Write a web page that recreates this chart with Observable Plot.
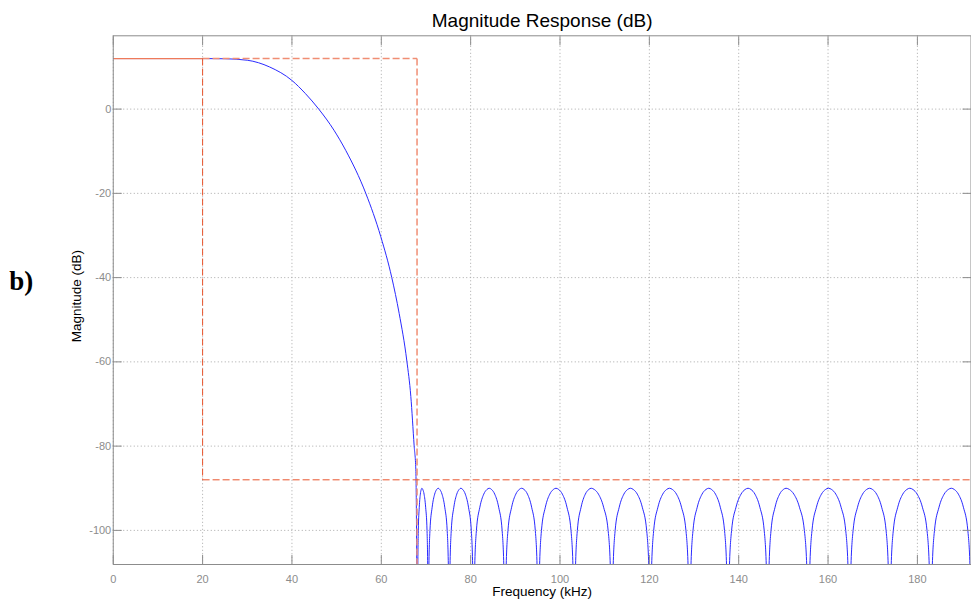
<!DOCTYPE html>
<html><head><meta charset="utf-8">
<script src="https://cdn.jsdelivr.net/npm/d3@7"></script>
<script src="https://cdn.jsdelivr.net/npm/@observablehq/plot@0.6"></script>
<style>
body{margin:0;background:#fff;font-family:"Liberation Sans",Arial,sans-serif;}
#chart svg{display:block;}
</style>
</head><body><div id="chart"></div>
<script>
// ---- texts ----
const titleText = "Magnitude Response (dB)";
const xLabelText = "Frequency (kHz)";
const yLabelText = "Magnitude (dB)";
const panelText = "b)";

// ---- axes ----
const xDomain = [0, 192];
const yDomain = [-108.1, 17.4];
const xTicks = [0, 20, 40, 60, 80, 100, 120, 140, 160, 180];
const yTicks = [0, -20, -40, -60, -80, -100];

// ---- passband / transition curve (kHz, dB) ----
const passFreq = [0, 20, 25, 30, 35, 40, 43, 46, 49.4, 52.04, 56.53, 59.89, 62.35, 64.0, 65.72, 66.61, 67.35, 67.73, 68.11];
const passDb   = [12, 12, 11.95, 11.6, 10.0, 6.8, 3.7, 0, -5.0, -9.8, -20.0, -30.3, -40.0, -48.5, -59.8, -68.2, -79.9, -85.6, -140];

// ---- stopband ripple lobes ----
const stopZeros = [68.11, 70.49, 75.19, 80.66, 87.68, 95.14, 103.2, 111.6, 120.2, 129.0, 137.6, 146.5, 155.6, 164.8, 173.8, 183.0, 192.1];
const stopPeaks = [69.08, 72.73, 77.81, 84.16, 91.42, 99.1, 107.0, 115.75, 124.5, 133.3, 142.1, 150.6, 160.1, 169.3, 178.3, 187.6];
const ripplePeakDb = [-90, -90, -90, -90, -90, -90, -90, -90, -90, -90, -90, -90, -90, -90, -90, -90];
// lobe profile: fraction of half-lobe from zero -> dB below ripple peak
const lobeProfile = [[0, -50], [0.06, -20.5], [0.18, -10], [0.4, -4.5], [0.65, -1.4], [0.85, -0.3], [1, 0]];

// ---- specification mask ----
const passEdge = 20, stopEdge = 68, passLevel = 12, stopLevel = -88;

// build tables
const passData = passFreq.map((f, i) => ({f, db: passDb[i]}));
const lobeData = [];
stopPeaks.forEach((p, i) => {
  const zL = stopZeros[i], zR = stopZeros[i + 1], pk = ripplePeakDb[i];
  lobeProfile.forEach(([s, d]) => lobeData.push({lobe: i, f: zL + s * (p - zL), db: pk + d}));
  lobeProfile.slice(0, -1).reverse().forEach(([s, d]) => lobeData.push({lobe: i, f: zR - s * (zR - p), db: pk + d}));
});
const maskSolid = [{x1: xDomain[0], y1: passLevel, x2: passEdge, y2: passLevel}];
const maskDashedLight = [
  {x1: passEdge, y1: passLevel, x2: stopEdge, y2: passLevel},
  {x1: stopEdge, y1: passLevel, x2: stopEdge, y2: yDomain[0]}
];
const maskDashedDark = [
  {x1: passEdge, y1: passLevel, x2: passEdge, y2: stopLevel},
  {x1: passEdge, y1: stopLevel, x2: xDomain[1], y2: stopLevel}
];

const gray = "#8c8c8c";
const fmt = d => String(d);
const chart = Plot.plot({
  width: 971,
  height: 600,
  marginLeft: 112.75,
  marginRight: 0.5,
  marginTop: 35.3,
  marginBottom: 36,
  style: {fontFamily: '"Liberation Sans", Arial, sans-serif', background: "#fff"},
  x: {domain: xDomain},
  y: {domain: yDomain},
  marks: [
    Plot.gridX(xTicks, {stroke: "#a8a8a8", strokeOpacity: 1, strokeDasharray: "1,2.5"}),
    Plot.gridY(yTicks, {stroke: "#a8a8a8", strokeOpacity: 1, strokeDasharray: "1,2.5"}),
    Plot.line(passData, {x: "f", y: "db", stroke: "#2a2aff", strokeWidth: 1, curve: "monotone-x", clip: true}),
    Plot.line(lobeData, {x: "f", y: "db", z: "lobe", stroke: "#2a2aff", strokeWidth: 1, curve: "monotone-x", clip: true}),
    Plot.link(maskSolid, {x1: "x1", y1: "y1", x2: "x2", y2: "y2", stroke: "#ee7a5a", strokeWidth: 1.3}),
    Plot.link(maskDashedLight, {x1: "x1", y1: "y1", x2: "x2", y2: "y2", stroke: "#f08e74", strokeWidth: 1.5, strokeDasharray: "7,3", clip: true}),
    Plot.link(maskDashedDark, {x1: "x1", y1: "y1", x2: "x2", y2: "y2", stroke: "#e8532c", strokeWidth: 1, strokeDasharray: "7,3", clip: true}),
    Plot.frame({stroke: gray, strokeWidth: 1}),
    Plot.axisX(xTicks, {anchor: "bottom", tickSize: -9, tickPadding: 20, tickFormat: fmt, stroke: gray, fill: gray, fontSize: 11, label: null}),
    Plot.axisX(xTicks, {anchor: "top", tickSize: -9, tickFormat: () => "", stroke: gray, label: null}),
    Plot.axisY(yTicks, {anchor: "left", tickSize: -9, tickPadding: 11, tickFormat: fmt, stroke: gray, fill: gray, fontSize: 11, label: null}),
    Plot.axisY(yTicks, {anchor: "right", tickSize: -9, tickFormat: () => "", stroke: gray, label: null}),
    Plot.text([titleText], {text: d => d, frameAnchor: "top", textAnchor: "middle", lineAnchor: "bottom", dy: -9, fontSize: 19, fill: "#000"}),
    Plot.text([xLabelText], {text: d => d, frameAnchor: "bottom", textAnchor: "middle", lineAnchor: "middle", dy: 27, fontSize: 13.5, fill: "#000"}),
    Plot.text([yLabelText], {text: d => d, frameAnchor: "left", textAnchor: "middle", lineAnchor: "middle", rotate: -90, dx: -37, dy: -4, fontSize: 13.5, fill: "#000"}),
    Plot.text([panelText], {text: d => d, frameAnchor: "left", textAnchor: "start", dx: -104, dy: -19, fontSize: 27, fontWeight: "bold", fontFamily: '"Liberation Serif", "Times New Roman", serif', fill: "#000"})
  ]
});
document.getElementById("chart").appendChild(chart);
</script>
</body></html>
